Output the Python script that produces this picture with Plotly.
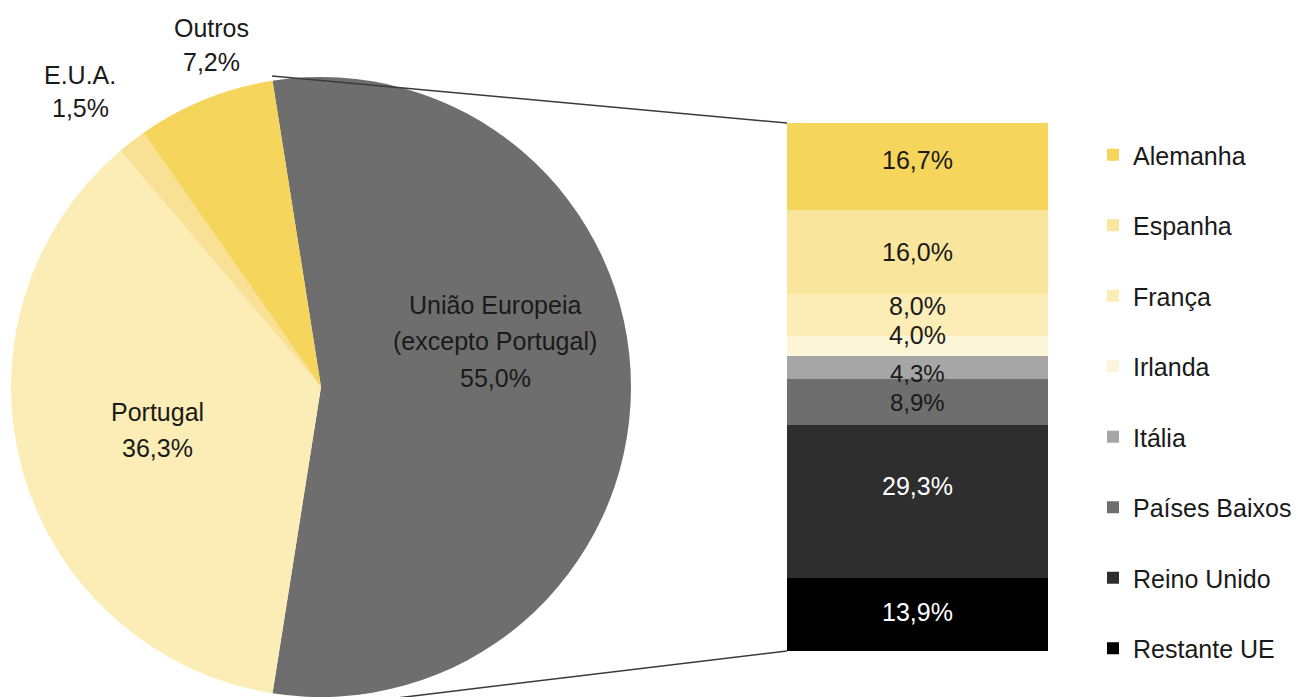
import plotly.graph_objects as go

W, H = 1307, 697

# ---------------- data ----------------
pie_labels = ["União Europeia (excepto Portugal)", "Portugal", "E.U.A.", "Outros"]
pie_values = [55.0, 36.3, 1.5, 7.2]
pie_colors = ["#6e6e6e", "#fbedb5", "#f8e095", "#f5d55c"]

bar_labels = ["Alemanha", "Espanha", "França", "Irlanda", "Itália",
              "Países Baixos", "Reino Unido", "Restante UE"]
bar_values = [16.7, 16.0, 8.0, 4.0, 4.3, 8.9, 29.3, 13.9]
bar_colors = ["#f5d55c", "#f9e59b", "#fbedb5", "#fdf5d8", "#a6a6a6",
              "#6e6e6e", "#2e2e2e", "#000000"]

# ---------------- styles ----------------
FONT = "Liberation Sans, Arial, sans-serif"
TXT = "#1a1a1a"
FS = 25
bar_text_colors = [TXT, TXT, TXT, TXT, TXT, TXT, "#ffffff", "#ffffff"]
bar_text_shift = [7, 0, 9, 11, -6, 0, 16, 3]   # pixel nudges of value labels
bar_text_size = [FS, FS, FS, FS, 24, 24, FS, FS]


def pct(v):
    return f"{v:.1f}".replace(".", ",") + "%"


fig = go.Figure()

# pie (left)
pie_dom_x = [11 / W, 631 / W]
pie_dom_y = [0.0, 1 - 77 / H]
fig.add_trace(go.Pie(
    labels=pie_labels, values=pie_values, sort=False, direction="clockwise",
    rotation=-9, marker=dict(colors=pie_colors, line=dict(width=0)),
    textinfo="none", hoverinfo="label+percent", showlegend=False,
    domain=dict(x=pie_dom_x, y=pie_dom_y),
))

# stacked bar (right) — bottom to top
order = list(range(len(bar_labels)))[::-1]
for i in order:
    fig.add_trace(go.Bar(
        x=[0], y=[bar_values[i]], name=bar_labels[i],
        marker=dict(color=bar_colors[i], line=dict(width=0)),
        legendgroup=bar_labels[i], legendrank=i + 1, xaxis="x", yaxis="y",
        hoverinfo="name+y",
    ))

total = sum(bar_values)
annotations = []
cum = 0.0
for i in order:
    mid = cum + bar_values[i] / 2
    cum += bar_values[i]
    annotations.append(dict(
        x=0, y=mid, xref="x", yref="y", text=pct(bar_values[i]),
        showarrow=False, yshift=bar_text_shift[i],
        font=dict(family=FONT, size=bar_text_size[i], color=bar_text_colors[i]),
    ))

# pie labels (line by line, to match line spacing)
pie_label_lines = [
    (["União Europeia", "(excepto Portugal)", pct(pie_values[0])], 495, [305, 341, 378]),
    (["Portugal", pct(pie_values[1])], 157, [412, 448]),
    (["E.U.A.", pct(pie_values[2])], 80, [75, 108]),
    (["Outros", pct(pie_values[3])], 211, [28, 62]),
]
for lines, xc, ys in pie_label_lines:
    for t, yc in zip(lines, ys):
        annotations.append(dict(
            x=xc / W, y=1 - yc / H, xref="paper", yref="paper", text=t,
            showarrow=False, xanchor="center", yanchor="middle",
            font=dict(family=FONT, size=FS, color=TXT),
        ))

# connector lines between pie slice and bar
shapes = [
    dict(type="line", xref="paper", yref="paper",
         x0=272 / W, y0=1 - 76 / H, x1=787 / W, y1=1 - 123 / H,
         line=dict(color="#3a3a3a", width=1.5)),
    dict(type="line", xref="paper", yref="paper",
         x0=272 / W, y0=1 - 713 / H, x1=787 / W, y1=1 - 651 / H,
         line=dict(color="#3a3a3a", width=1.5)),
]

fig.update_layout(
    width=W, height=H,
    margin=dict(l=0, r=0, t=0, b=0),
    paper_bgcolor="white", plot_bgcolor="white",
    barmode="stack", bargap=0,
    xaxis=dict(domain=[787 / W, 1048 / W], range=[-0.5, 0.5], visible=False, fixedrange=True),
    yaxis=dict(domain=[1 - 651 / H, 1 - 123 / H], range=[0, total], visible=False, fixedrange=True),
    showlegend=True,
    legend=dict(
        x=1093 / W, y=1 - 132 / H, xanchor="left", yanchor="top",
        traceorder="grouped", tracegroupgap=35,
        font=dict(family=FONT, size=FS, color=TXT),
        bgcolor="rgba(0,0,0,0)",
    ),
    annotations=annotations, shapes=shapes,
    font=dict(family=FONT, color=TXT),
)

fig.write_html("out.html")
